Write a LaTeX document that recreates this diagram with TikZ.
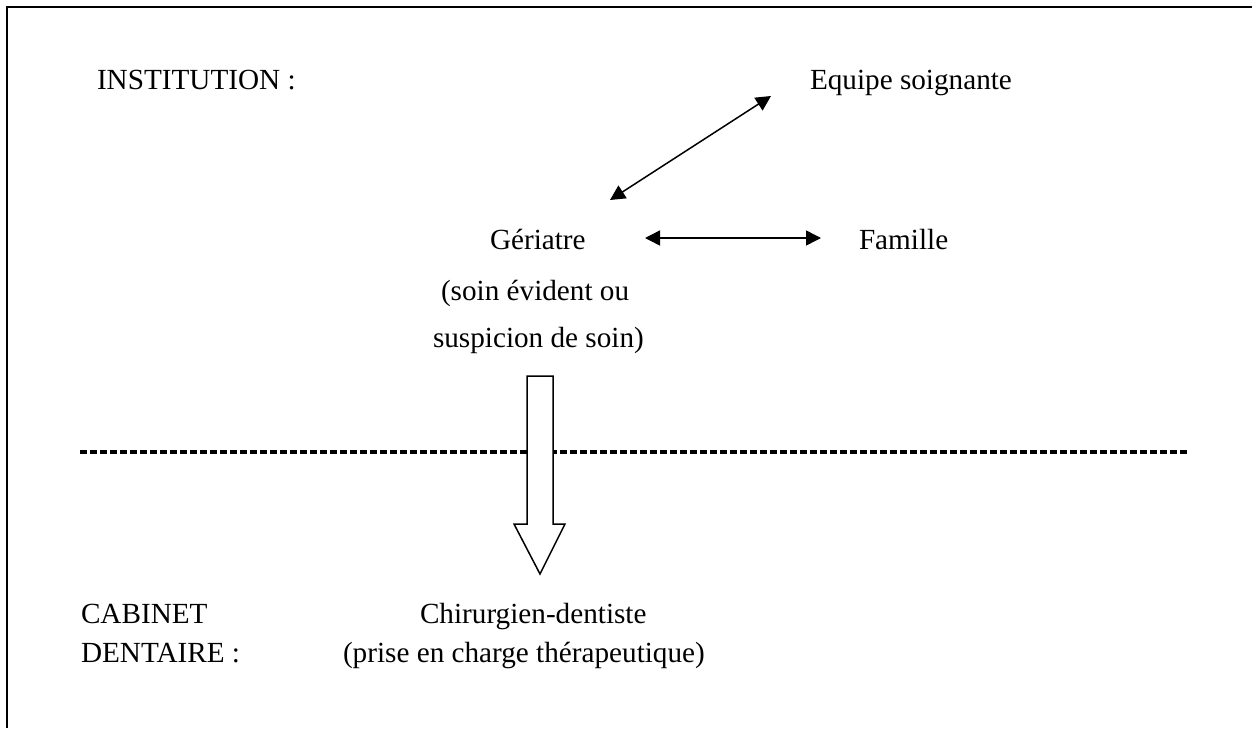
\documentclass[tikz,border=0pt]{standalone}
\usepackage{fontspec}
\setmainfont{Liberation Serif}
\usetikzlibrary{arrows.meta}
\begin{document}
\begin{tikzpicture}[x=0.5pt,y=-0.5pt,
  lbl/.style={anchor=base west,inner sep=0pt,outer sep=0pt,font=\fontsize{14.6}{17}\selectfont},
  dbl/.style={line width=0.75pt,{Triangle[length=7.5pt,width=7.5pt]}-{Triangle[length=7.5pt,width=7.5pt]}},
  frame/.style={line width=1pt},
  sep/.style={line width=1.6pt,dash pattern=on 3.5pt off 1.5pt},
  block/.style={line width=0.75pt,fill=white,line join=miter}]
\useasboundingbox (0,0) rectangle (1252,728);
\draw[frame] (7,728) -- (7,7) -- (1252,7);
% texts
\node[lbl] (inst) at (97,89) {INSTITUTION :};
\node[lbl] (equipe) at (810,89) {Equipe soignante};
\node[lbl] (ger) at (490,249) {Gériatre};
\node[lbl] (ger2) at (441,300) {(soin évident ou};
\node[lbl] (ger3) at (433,347) {suspicion de soin)};
\node[lbl] (fam) at (859,249) {Famille};
\node[lbl] (cab) at (81,623) {CABINET};
\node[lbl] (dent) at (81,662) {DENTAIRE :};
\node[lbl] (chir) at (420,623) {Chirurgien-dentiste};
\node[lbl] (chir2) at (343,662) {(prise en charge thérapeutique)};
% arrow ends
\coordinate (dgA) at (610,200);
\coordinate (dgB) at (771,96);
\coordinate (hA) at (645,238);
\coordinate (hB) at (821,238);
\draw[dbl] (dgA) -- (dgB);
\draw[dbl] (hA) -- (hB);
% separator
\coordinate (sepL) at (80,452);
\coordinate (sepR) at (1187,452);
\draw[sep] (sepL) -- (sepR);
% block arrow
\draw[block] (527,376) -- (553,376) -- (553,524) -- (565,524) -- (540,574) -- (514,524) -- (527,524) -- cycle;
\end{tikzpicture}
\end{document}
